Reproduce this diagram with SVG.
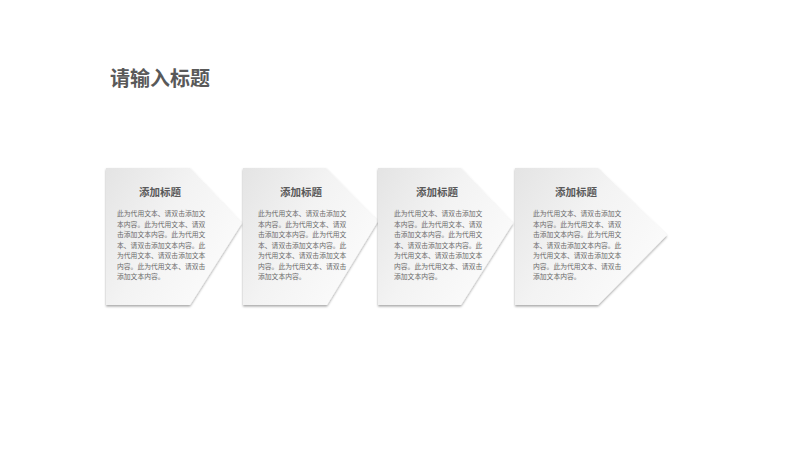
<svg xmlns="http://www.w3.org/2000/svg" xmlns:xlink="http://www.w3.org/1999/xlink" width="800" height="450" viewBox="0 0 800 450">
  <style>
    .card { fill: url(#cardGrad); filter: url(#shadow); }
    .title { font-family: "Noto Sans CJK SC", "Noto Sans", sans-serif; font-size: 10.5px; font-weight: bold; fill: #595959; text-anchor: middle; }
    .body { font-family: "Noto Sans CJK SC", "Noto Sans", sans-serif; font-size: 6.8px; fill: #6b6b6b; }
    .head { font-family: "Noto Sans CJK SC", "Noto Sans", sans-serif; font-size: 20px; font-weight: bold; fill: #595959; }
  </style>
  <defs>
    <linearGradient id="cardGrad" x1="0" y1="0" x2="1" y2="0.6">
      <stop offset="0" stop-color="#e4e4e4"/>
      <stop offset="0.5" stop-color="#f3f3f3"/>
      <stop offset="1" stop-color="#fbfbfb"/>
    </linearGradient>
    <filter id="shadow" x="-10%" y="-10%" width="125%" height="125%">
      <feDropShadow dx="0" dy="1.5" stdDeviation="1.3" flood-color="#000" flood-opacity="0.35"/>
    </filter>
  </defs>
  <rect width="800" height="450" fill="#ffffff"/>
  <text class="head" x="110" y="86">请输入标题</text>

  <g id="node1">
    <path class="card" d="M106,168 H190 L242,223 L190,305 H106 Z"/>
    <text class="title" x="160" y="196">添加标题</text>
    <text class="body" x="117">
      <tspan x="117" y="216">此为代用文本、请双击添加文</tspan>
      <tspan x="117" y="226.5">本内容。此为代用文本、请双</tspan>
      <tspan x="117" y="237">击添加文本内容。此为代用文</tspan>
      <tspan x="117" y="247.5">本、请双击添加文本内容。此</tspan>
      <tspan x="117" y="258">为代用文本、请双击添加文本</tspan>
      <tspan x="117" y="268.5">内容。此为代用文本、请双击</tspan>
      <tspan x="117" y="279">添加文本内容。</tspan>
    </text>
  </g>

  <g id="node2">
    <path class="card" d="M243,168 H326 L378,221 L327,305 H243 Z"/>
    <text class="title" x="301" y="196">添加标题</text>
    <text class="body">
      <tspan x="258" y="216">此为代用文本、请双击添加文</tspan>
      <tspan x="258" y="226.5">本内容。此为代用文本、请双</tspan>
      <tspan x="258" y="237">击添加文本内容。此为代用文</tspan>
      <tspan x="258" y="247.5">本、请双击添加文本内容。此</tspan>
      <tspan x="258" y="258">为代用文本、请双击添加文本</tspan>
      <tspan x="258" y="268.5">内容。此为代用文本、请双击</tspan>
      <tspan x="258" y="279">添加文本内容。</tspan>
    </text>
  </g>

  <g id="node3">
    <path class="card" d="M378,168 H461 L513,223 L461,305 H378 Z"/>
    <text class="title" x="437" y="196">添加标题</text>
    <text class="body">
      <tspan x="394" y="216">此为代用文本、请双击添加文</tspan>
      <tspan x="394" y="226.5">本内容。此为代用文本、请双</tspan>
      <tspan x="394" y="237">击添加文本内容。此为代用文</tspan>
      <tspan x="394" y="247.5">本、请双击添加文本内容。此</tspan>
      <tspan x="394" y="258">为代用文本、请双击添加文本</tspan>
      <tspan x="394" y="268.5">内容。此为代用文本、请双击</tspan>
      <tspan x="394" y="279">添加文本内容。</tspan>
    </text>
  </g>

  <g id="node4">
    <path class="card" d="M515,168 H598 L667,235 L598,305 H515 Z"/>
    <text class="title" x="576" y="196">添加标题</text>
    <text class="body">
      <tspan x="533" y="216">此为代用文本、请双击添加文</tspan>
      <tspan x="533" y="226.5">本内容。此为代用文本、请双</tspan>
      <tspan x="533" y="237">击添加文本内容。此为代用文</tspan>
      <tspan x="533" y="247.5">本、请双击添加文本内容。此</tspan>
      <tspan x="533" y="258">为代用文本、请双击添加文本</tspan>
      <tspan x="533" y="268.5">内容。此为代用文本、请双击</tspan>
      <tspan x="533" y="279">添加文本内容。</tspan>
    </text>
  </g>

  <g id="connectors"></g>
</svg>
